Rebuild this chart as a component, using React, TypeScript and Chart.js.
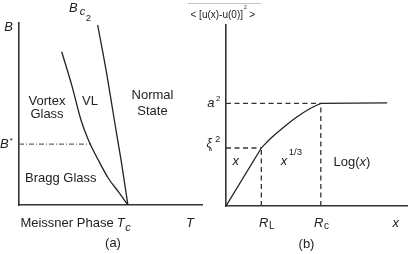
import React, { useEffect, useRef } from "react";
import { Chart, registerables } from "chart.js";

Chart.register(...registerables);

// ---------- Panel (a): B–T phase diagram (T in units of Tc) ----------
const tMax = 1.68;
const bMax = 1;
const bc2T = [0.722, 0.80, 0.875, 0.94, 1.0];
const bc2B = [0.989, 0.74, 0.467, 0.235, 0];
const vgT = [0.392, 0.484, 0.569, 0.633, 0.728, 0.82, 0.912, 1.0];
const vgB = [0.842, 0.659, 0.467, 0.363, 0.247, 0.147, 0.073, 0];
const bStar = 0.335;
const bStarEndT = 0.658;

// ---------- Panel (b): displacement correlation (x in units of R_L, y in units of a^2) ----------
const xMax = 5.15;
const yMax = 1.763;
const curveX = [0, 1, 1.246, 1.623, 2.003, 2.38, 2.683, 4.56];
const curveY = [0, 0.565, 0.653, 0.765, 0.866, 0.95, 1.0, 1.005];
const RL = 1;
const Rc = 2.683;
const xi2 = 0.565;
const a2 = 1.0;

const FONT = '"Liberation Sans", Arial, Helvetica, sans-serif';
const INK = "#222";

type Part = { t: string; size?: number; italic?: boolean; dx?: number; dy?: number };
type Lab = {
  x: number;
  y: number;
  align?: "left" | "center";
  parts: Part[];
  overline?: { dy: number; pre: number; post: number; color: string };
};

const labelsA: Lab[] = [
  { x: -0.0964, y: 0.9533, align: "center", parts: [{ t: "B", italic: true }] },
  {
    x: 0.459, y: 1.062, parts: [
      { t: "B", italic: true },
      { t: "c", italic: true, size: 11, dx: 2, dy: 3.3 },
      { t: "2", size: 9.5, dx: 0.5, dy: 9 },
    ],
  },
  { x: 0.257, y: 0.5495, align: "center", parts: [{ t: "Vortex" }] },
  { x: 0.257, y: 0.478, align: "center", parts: [{ t: "Glass" }] },
  { x: 0.652, y: 0.552, align: "center", parts: [{ t: "VL" }] },
  { x: 1.2256, y: 0.5824, align: "center", parts: [{ t: "Normal" }] },
  { x: 1.2256, y: 0.4945, align: "center", parts: [{ t: "State" }] },
  {
    x: -0.1744, y: 0.3148, parts: [
      { t: "B", italic: true },
      { t: "*", size: 8, dx: 1, dy: -5 },
    ],
  },
  { x: 0.3837, y: 0.1264, align: "center", parts: [{ t: "Bragg Glass" }] },
  { x: 0.4407, y: -0.1209, align: "center", parts: [{ t: "Meissner Phase" }] },
  {
    x: 0.8969, y: -0.1209, parts: [
      { t: "T", italic: true },
      { t: "c", italic: true, size: 11, dx: 0.5, dy: 3.5 },
    ],
  },
  { x: 1.5698, y: -0.1209, align: "center", parts: [{ t: "T", italic: true }] },
  { x: 0.863, y: -0.2335, align: "center", parts: [{ t: "(a)" }] },
];

const labelsB: Lab[] = [
  {
    x: -1.0045, y: 1.836, parts: [
      { t: "< [u(x)-u(0)]", size: 10 },
      { t: "2", size: 5, dx: 1, dy: -9 },
      { t: ">", size: 10, dx: 2.5 },
    ],
    overline: { dy: -14.5, pre: 2.5, post: 6, color: "#c4c4c4" },
  },
  {
    x: -0.529, y: 0.967, parts: [
      { t: "a", italic: true },
      { t: "2", size: 8, dx: 1.5, dy: -6 },
    ],
  },
  {
    x: -0.552, y: 0.57, parts: [
      { t: "ξ", italic: true, size: 12 },
      { t: "o", size: 6, dx: -3, dy: 3.5 },
      { t: "2", size: 9, dx: 3, dy: -5 },
    ],
  },
  { x: 0.2745, y: 0.3964, align: "center", parts: [{ t: "x", italic: true }] },
  {
    x: 1.548, y: 0.3964, parts: [
      { t: "x", italic: true },
      { t: "1/3", size: 9.5, dx: 1.5, dy: -10 },
    ],
  },
  {
    x: 3.565, y: 0.3925, align: "center", parts: [
      { t: "Log(" },
      { t: "x", italic: true },
      { t: ")" },
    ],
  },
  {
    x: 0.934, y: -0.2045, parts: [
      { t: "R", italic: true },
      { t: "L", size: 10, dx: 0.5, dy: 1.7 },
    ],
  },
  {
    x: 2.49, y: -0.2045, parts: [
      { t: "R", italic: true },
      { t: "c", size: 10, dx: 0.5, dy: 1.7 },
    ],
  },
  { x: 4.802, y: -0.1997, align: "center", parts: [{ t: "x", italic: true }] },
  { x: 2.278, y: -0.409, align: "center", parts: [{ t: "(b)" }] },
];

function fontOf(p: Part) {
  return `${p.italic ? "italic " : ""}${p.size ?? 13}px ${FONT}`;
}

function makeLabelPlugin(id: string, labels: Lab[]) {
  return {
    id,
    afterDraw(chart: any) {
      const ctx = chart.ctx as CanvasRenderingContext2D;
      const xs = chart.scales.x;
      const ys = chart.scales.y;
      ctx.save();
      ctx.fillStyle = INK;
      ctx.textBaseline = "alphabetic";
      ctx.textAlign = "left";
      for (const lab of labels) {
        const px = xs.getPixelForValue(lab.x);
        const py = ys.getPixelForValue(lab.y);
        const widths = lab.parts.map((p) => {
          ctx.font = fontOf(p);
          return ctx.measureText(p.t).width;
        });
        let total = 0;
        lab.parts.forEach((p, i) => (total += (p.dx ?? 0) + widths[i]));
        let cx = lab.align === "center" ? px - total / 2 : px;
        const start = cx;
        lab.parts.forEach((p, i) => {
          ctx.font = fontOf(p);
          cx += p.dx ?? 0;
          ctx.fillText(p.t, cx, py + (p.dy ?? 0));
          cx += widths[i];
        });
        if (lab.overline) {
          const o = lab.overline;
          ctx.strokeStyle = o.color;
          ctx.lineWidth = 1;
          ctx.beginPath();
          ctx.moveTo(start - o.pre, Math.round(py + o.dy) + 0.5);
          ctx.lineTo(start + total + o.post, Math.round(py + o.dy) + 0.5);
          ctx.stroke();
        }
      }
      ctx.restore();
    },
  };
}

const pts = (xs: number[], ys: number[]) => xs.map((x, i) => ({ x, y: ys[i] }));

function axisOpts(min: number, max: number) {
  return {
    type: "linear" as const,
    min,
    max,
    grid: { display: false, drawTicks: false },
    ticks: { display: false },
    border: { display: true, color: "#333", width: 1.6 },
  };
}

const lineDs = (data: any[], extra: any = {}) => ({
  data,
  borderColor: INK,
  borderWidth: 1.3,
  pointRadius: 0,
  fill: false,
  tension: 0,
  ...extra,
});

function PanelA() {
  const ref = useRef<HTMLCanvasElement>(null);
  useEffect(() => {
    if (!ref.current) return;
    const chart = new Chart(ref.current, {
      type: "line",
      data: {
        datasets: [
          lineDs(pts(bc2T, bc2B), { tension: 0.2 }),
          lineDs(pts(vgT, vgB), { cubicInterpolationMode: "monotone" }),
          lineDs(
            [
              { x: 0, y: bStar },
              { x: bStarEndT, y: bStar },
            ],
            { borderColor: "#666", borderWidth: 1.2, borderDash: [5, 2, 1, 2] }
          ),
        ],
      },
      options: {
        responsive: false,
        animation: false,
        layout: { padding: { left: 19, top: 23, right: 2, bottom: 49 } },
        plugins: { legend: { display: false }, tooltip: { enabled: false } },
        scales: { x: axisOpts(0, tMax), y: axisOpts(0, bMax) },
      },
      plugins: [makeLabelPlugin("labelsA", labelsA)],
    });
    return () => chart.destroy();
  }, []);
  return <canvas ref={ref} width={204} height={254} style={{ position: "absolute", left: 0, top: 0 }} />;
}

function PanelB() {
  const ref = useRef<HTMLCanvasElement>(null);
  useEffect(() => {
    if (!ref.current) return;
    const dash = { borderDash: [5, 3.5], borderWidth: 1.3, borderColor: "#333" };
    const chart = new Chart(ref.current, {
      type: "line",
      data: {
        datasets: [
          lineDs([{ x: 0, y: a2 }, { x: Rc, y: a2 }], dash),
          lineDs([{ x: Rc, y: 0 }, { x: Rc, y: a2 }], dash),
          lineDs([{ x: 0, y: xi2 }, { x: RL, y: xi2 }], dash),
          lineDs([{ x: RL, y: 0 }, { x: RL, y: xi2 }], dash),
          lineDs(pts(curveX.slice(0, 2), curveY.slice(0, 2))),
          lineDs(pts(curveX.slice(1, 7), curveY.slice(1, 7)), { cubicInterpolationMode: "monotone" }),
          lineDs(pts(curveX.slice(6), curveY.slice(6))),
        ],
      },
      options: {
        responsive: false,
        animation: false,
        layout: { padding: { left: 46, top: 25, right: 0, bottom: 48 } },
        plugins: { legend: { display: false }, tooltip: { enabled: false } },
        scales: { x: axisOpts(0, xMax), y: axisOpts(0, yMax) },
      },
      plugins: [makeLabelPlugin("labelsB", labelsB)],
    });
    return () => chart.destroy();
  }, []);
  return <canvas ref={ref} width={228} height={254} style={{ position: "absolute", left: 180, top: 0 }} />;
}

export default function App() {
  return (
    <div
      style={{
        position: "fixed",
        left: 0,
        top: 0,
        width: 408,
        height: 254,
        background: "#fff",
        overflow: "hidden",
      }}
    >
      <PanelA />
      <PanelB />
    </div>
  );
}
